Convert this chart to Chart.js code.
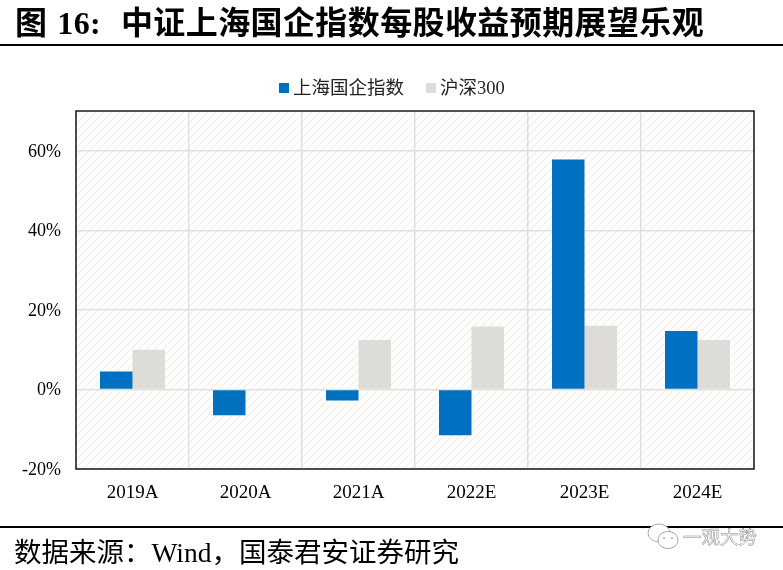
<!DOCTYPE html>
<html>
<head>
<meta charset="utf-8">
<script src="https://cdn.jsdelivr.net/npm/chart.js@4/dist/chart.umd.min.js"></script>
<style>
    html, body { margin: 0; padding: 0; background: #fff; }
    #page { position: relative; width: 783px; height: 570px; overflow: hidden; font-family: "Liberation Serif", "Noto Sans CJK SC", serif; color: #000; }
    #chart { position: absolute; left: 0; top: 0; }
    #title { position: absolute; left: 15px; top: 1px; font-size: 32px; font-weight: bold; line-height: 44px; white-space: nowrap; letter-spacing: 0.4px; word-spacing: 1.5px; }
    #topRule { position: absolute; left: 0; top: 44px; width: 783px; height: 2px; background: #000; }
    #bottomRule { position: absolute; left: 0; top: 526px; width: 783px; height: 2px; background: #000; }
    #source { position: absolute; left: 14px; top: 535px; font-size: 27.5px; line-height: 36px; white-space: nowrap; }
    #mark { position: absolute; left: 683px; top: 522px; font-size: 18.5px; line-height: 28px; color: #fff; -webkit-text-stroke: 0.5px #888; font-family: "Noto Sans CJK SC", sans-serif; white-space: nowrap; }
    #icon { position: absolute; left: 645px; top: 522px; }
    .legendItem { position: absolute; top: 76px; height: 24px; line-height: 24px; font-size: 18.5px; color: #222; white-space: nowrap; }
    .legendItem i { position: absolute; left: -14px; top: 7px; width: 10px; height: 10px; }
</style>
</head>
<body>
<div id="page">
    <canvas id="chart" width="783" height="570"></canvas>
    <div id="title">图 16:&nbsp;&nbsp;中证上海国企指数每股收益预期展望乐观</div>
    <div id="topRule"></div>
    <div id="bottomRule"></div>
    <div id="source">数据来源：Wind，国泰君安证券研究</div>
    <svg id="icon" width="36" height="30" viewBox="0 0 36 30">
        <ellipse cx="14" cy="11" rx="11" ry="9" fill="#fff" stroke="#aaa"/>
        <ellipse cx="23" cy="18" rx="10" ry="8.5" fill="#fff" stroke="#aaa"/>
        <circle cx="19" cy="16" r="1" fill="#aaa"/>
        <circle cx="27" cy="16" r="1" fill="#aaa"/>
    </svg>
    <div id="mark">一观大势</div>
</div>
<script>
const categories = ['2019A', '2020A', '2021A', '2022E', '2023E', '2024E'];
const guoqiValues = [4.5, -6.5, -2.8, -11.5, 57.8, 14.7];
const hs300Values = [10, 0, 12.4, 15.8, 16, 12.4];
const seriesNames = ['上海国企指数', '沪深300'];
const seriesColors = ['#0070c0', '#dedcd8'];
const tickValues = [-20, 0, 20, 40, 60];

const fontFamily = '"Liberation Serif", "Noto Sans CJK SC", serif';

// the legend sits in the page so the box-to-text gap can stay tight
[293, 440].forEach((left, i) => {
    const item = document.createElement('div');
    item.className = 'legendItem';
    item.style.left = left + 'px';
    item.innerHTML = `<i style="background:${seriesColors[i]}"></i>${seriesNames[i]}`;
    document.getElementById('page').appendChild(item);
});

// light diagonal stripes behind the plot
function makeHatch(ctx) {
    const tile = document.createElement('canvas');
    tile.width = 8;
    tile.height = 8;
    const t = tile.getContext('2d');
    t.strokeStyle = '#f3f2f0';
    t.lineWidth = 1.6;
    t.beginPath();
    t.moveTo(-2, 10); t.lineTo(10, -2);
    t.moveTo(-2, 2); t.lineTo(2, -2);
    t.moveTo(6, 10); t.lineTo(10, 6);
    t.stroke();
    return ctx.createPattern(tile, 'repeat');
}

const plotFrame = {
    id: 'plotFrame',
    beforeDraw(chart) {
        const { ctx, chartArea: a } = chart;
        ctx.save();
        ctx.fillStyle = makeHatch(ctx);
        ctx.fillRect(a.left, a.top, a.width, a.height);
        ctx.restore();
    },
    afterDraw(chart) {
        const { ctx, chartArea: a } = chart;
        ctx.save();
        ctx.strokeStyle = '#1a1a1a';
        ctx.lineWidth = 1.5;
        ctx.strokeRect(a.left, a.top, a.width, a.height);
        ctx.restore();
    }
};

new Chart(document.getElementById('chart').getContext('2d'), {
    type: 'bar',
    data: {
        labels: categories,
        datasets: [
            { label: seriesNames[0], data: guoqiValues, backgroundColor: seriesColors[0] },
            { label: seriesNames[1], data: hs300Values, backgroundColor: seriesColors[1] }
        ]
    },
    options: {
        responsive: false,
        animation: false,
        devicePixelRatio: 1,
        categoryPercentage: 0.575,
        barPercentage: 1,
        layout: { padding: { top: 111, right: 29, bottom: 0, left: 0 } },
        plugins: {
            tooltip: { enabled: false },
            legend: { display: false }
        },
        scales: {
            x: {
                afterFit(scale) { scale.height = 101; },
                border: { display: false },
                grid: { color: '#e0dfdb', lineWidth: 1.5, drawTicks: false },
                ticks: { color: '#000', padding: 13, font: { family: fontFamily, size: 19 } }
            },
            y: {
                min: -20,
                max: 70,
                afterFit(scale) { scale.width = 76; },
                afterBuildTicks(scale) { scale.ticks = tickValues.map(value => ({ value })); },
                border: { display: false },
                grid: { color: '#e0dfdb', lineWidth: 1.5, drawTicks: false },
                ticks: {
                    color: '#000',
                    padding: 15,
                    labelOffset: 1,
                    font: { family: fontFamily, size: 18 },
                    callback: value => value + '%'
                }
            }
        }
    },
    plugins: [plotFrame]
});
</script>
</body>
</html>
